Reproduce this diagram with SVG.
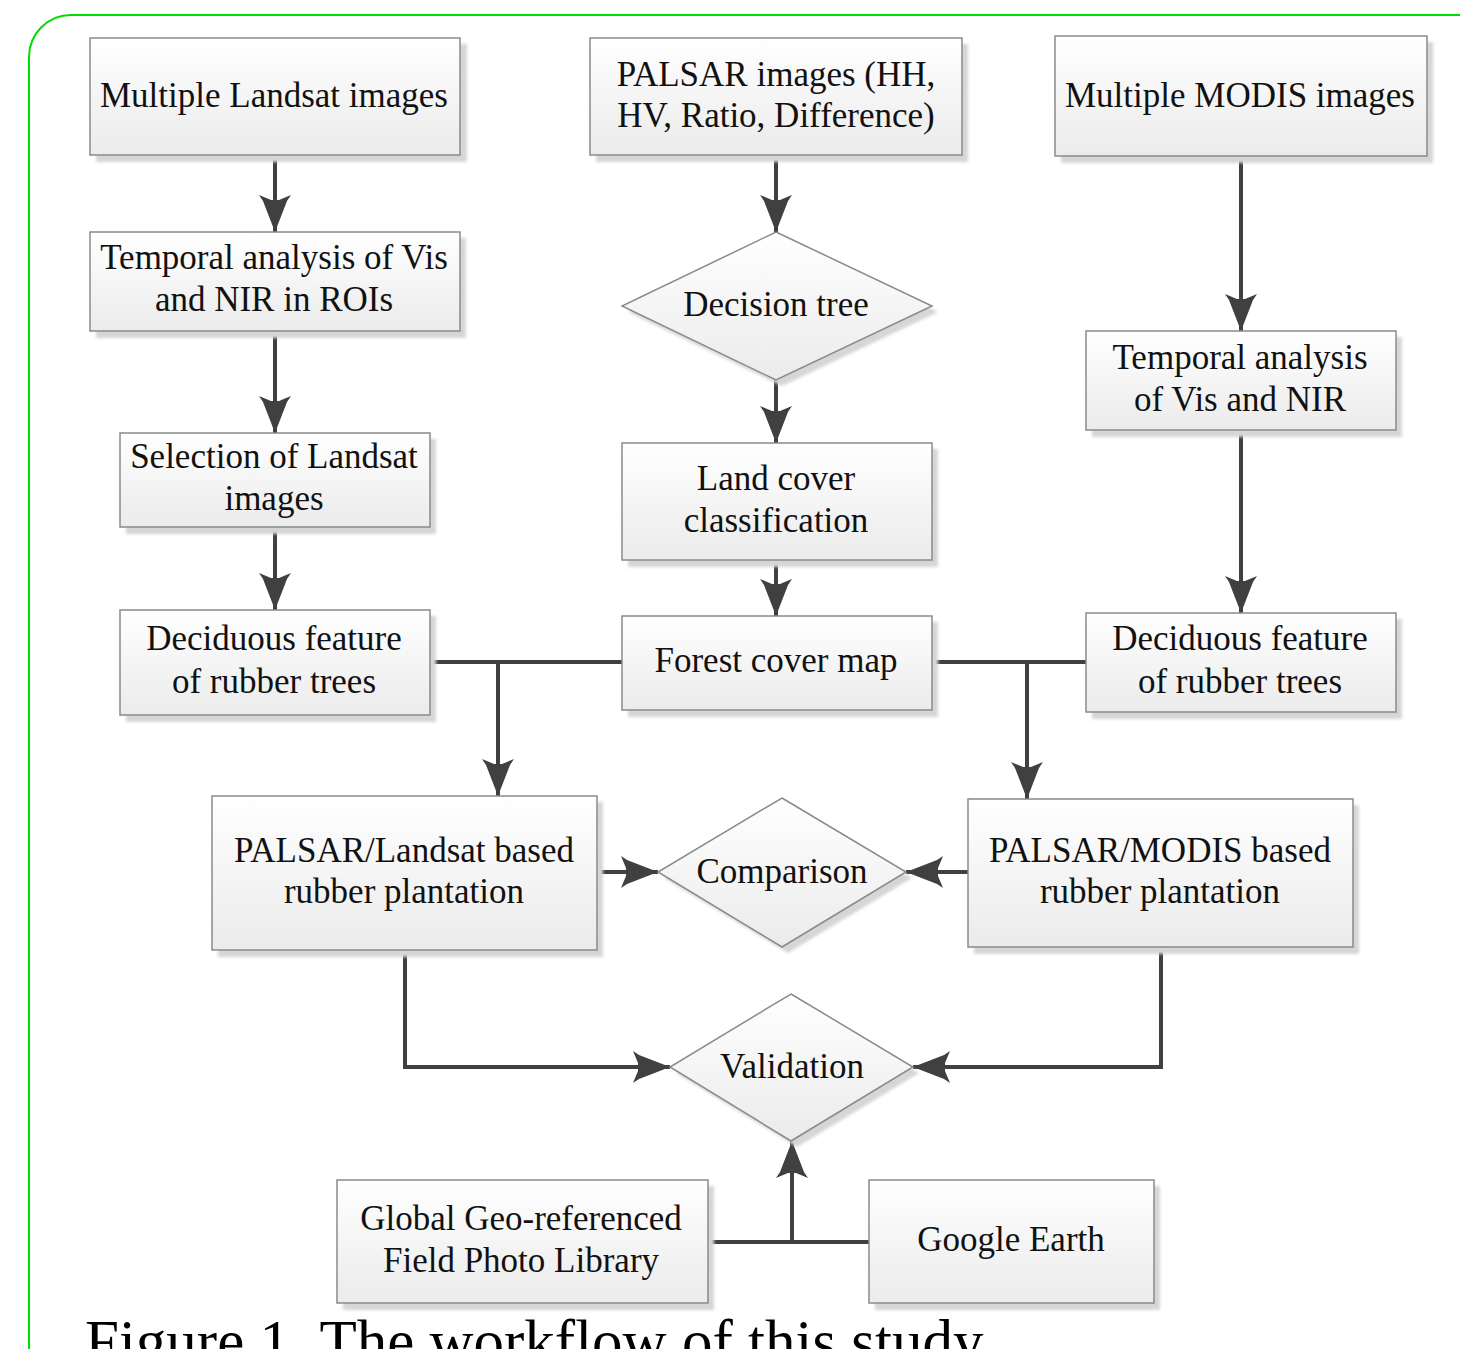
<svg xmlns="http://www.w3.org/2000/svg" width="1460" height="1349" viewBox="0 0 1460 1349">
<defs>
<linearGradient id="gf" x1="0" y1="0" x2="0" y2="1">
<stop offset="0" stop-color="#ffffff"/>
<stop offset="1" stop-color="#ebebeb"/>
</linearGradient>
<filter id="blur" x="-10%" y="-10%" width="120%" height="120%">
<feGaussianBlur stdDeviation="1.5"/>
</filter>
<marker id="ah" markerUnits="userSpaceOnUse" viewBox="-40 -20 42 40" refX="0" refY="0" markerWidth="42" markerHeight="40" orient="auto">
<path d="M0,0 L-31,-12 L-37,-16 L-32,-4 L-32,4 L-37,16 L-31,12 Z" fill="#404040"/>
</marker>
</defs>
<style>
.box{fill:url(#gf);stroke:#8a8a8a;stroke-width:1.5}
.sh{fill:#d6d6d6;filter:url(#blur)}
.t{font-family:"Liberation Serif","Times New Roman",serif;font-size:35px;fill:#111;text-anchor:middle}
.c{fill:none;stroke:#404040;stroke-width:4}
.ca{fill:none;stroke:#404040;stroke-width:4;marker-end:url(#ah)}
.cap{font-family:"Liberation Serif","Times New Roman",serif;font-size:61px;fill:#000}
</style>
<rect x="29" y="15" width="1480" height="1420" rx="42" fill="none" stroke="#00dd00" stroke-width="2"/>

<g id="connectors">
<line class="ca" x1="275" y1="155" x2="275" y2="232"/>
<line class="ca" x1="275" y1="331" x2="275" y2="433"/>
<line class="ca" x1="275" y1="527" x2="275" y2="610"/>
<line class="ca" x1="776" y1="155" x2="776" y2="232"/>
<line class="ca" x1="776" y1="380" x2="776" y2="443"/>
<line class="ca" x1="776" y1="560" x2="776" y2="616"/>
<line class="ca" x1="1241" y1="156" x2="1241" y2="331"/>
<line class="ca" x1="1241" y1="430" x2="1241" y2="613"/>
<line class="c" x1="430" y1="662" x2="622" y2="662"/>
<line class="ca" x1="498" y1="662" x2="498" y2="796"/>
<line class="c" x1="932" y1="662" x2="1086" y2="662"/>
<line class="ca" x1="1027" y1="662" x2="1027" y2="799"/>
<line class="ca" x1="597" y1="872" x2="658" y2="872"/>
<line class="ca" x1="968" y1="872" x2="906" y2="872"/>
<polyline class="ca" points="405,950 405,1067 670,1067"/>
<polyline class="ca" points="1161,947 1161,1067 913,1067"/>
<line class="c" x1="708" y1="1242" x2="869" y2="1242"/>
<line class="ca" x1="792" y1="1242" x2="792" y2="1141"/>
</g>

<g id="n-landsat">
<rect class="sh" x="96" y="44" width="371" height="118"/>
<rect class="box" x="90" y="38" width="370" height="117"/>
<text class="t" x="274" y="107">Multiple Landsat images</text>
</g>
<g id="n-palsar">
<rect class="sh" x="596" y="44" width="372" height="118"/>
<rect class="box" x="590" y="38" width="372" height="117"/>
<text class="t" x="776" y="86">PALSAR images (HH,</text>
<text class="t" x="776" y="127">HV, Ratio, Difference)</text>
</g>
<g id="n-modis">
<rect class="sh" x="1061" y="42" width="372" height="121"/>
<rect class="box" x="1055" y="36" width="372" height="120"/>
<text class="t" x="1240" y="107">Multiple MODIS images</text>
</g>
<g id="n-temporal-roi">
<rect class="sh" x="96" y="238" width="370" height="100"/>
<rect class="box" x="90" y="232" width="370" height="99"/>
<text class="t" x="274" y="269">Temporal analysis of Vis</text>
<text class="t" x="274" y="311">and NIR in ROIs</text>
</g>
<g id="n-decision">
<polygon class="sh" points="782,238 938,312 782,386 628,312"/>
<polygon class="box" points="776,232 932,306 776,380 622,306"/>
<text class="t" x="776" y="316">Decision tree</text>
</g>
<g id="n-temporal-modis">
<rect class="sh" x="1092" y="337" width="310" height="100"/>
<rect class="box" x="1086" y="331" width="310" height="99"/>
<text class="t" x="1240" y="369">Temporal analysis</text>
<text class="t" x="1240" y="411">of Vis and NIR</text>
</g>
<g id="n-selection">
<rect class="sh" x="126" y="439" width="310" height="95"/>
<rect class="box" x="120" y="433" width="310" height="94"/>
<text class="t" x="274" y="468">Selection of Landsat</text>
<text class="t" x="274" y="510">images</text>
</g>
<g id="n-landcover">
<rect class="sh" x="628" y="449" width="310" height="118"/>
<rect class="box" x="622" y="443" width="310" height="117"/>
<text class="t" x="776" y="490">Land cover</text>
<text class="t" x="776" y="532">classification</text>
</g>
<g id="n-decid-left">
<rect class="sh" x="126" y="616" width="310" height="106"/>
<rect class="box" x="120" y="610" width="310" height="105"/>
<text class="t" x="274" y="650">Deciduous feature</text>
<text class="t" x="274" y="693">of rubber trees</text>
</g>
<g id="n-forest">
<rect class="sh" x="628" y="622" width="310" height="95"/>
<rect class="box" x="622" y="616" width="310" height="94"/>
<text class="t" x="776" y="672">Forest cover map</text>
</g>
<g id="n-decid-right">
<rect class="sh" x="1092" y="619" width="310" height="100"/>
<rect class="box" x="1086" y="613" width="310" height="99"/>
<text class="t" x="1240" y="650">Deciduous feature</text>
<text class="t" x="1240" y="693">of rubber trees</text>
</g>
<g id="n-palsar-landsat">
<rect class="sh" x="218" y="802" width="385" height="155"/>
<rect class="box" x="212" y="796" width="385" height="154"/>
<text class="t" x="404" y="862">PALSAR/Landsat based</text>
<text class="t" x="404" y="903">rubber plantation</text>
</g>
<g id="n-comparison">
<polygon class="sh" points="788,804 912,878 788,953 664,878"/>
<polygon class="box" points="782,798 906,872 782,947 658,872"/>
<text class="t" x="782" y="883">Comparison</text>
</g>
<g id="n-palsar-modis">
<rect class="sh" x="974" y="805" width="385" height="149"/>
<rect class="box" x="968" y="799" width="385" height="148"/>
<text class="t" x="1160" y="862">PALSAR/MODIS based</text>
<text class="t" x="1160" y="903">rubber plantation</text>
</g>
<g id="n-validation">
<polygon class="sh" points="797,1000 919,1073 797,1147 676,1073"/>
<polygon class="box" points="791,994 913,1067 791,1141 670,1067"/>
<text class="t" x="792" y="1078">Validation</text>
</g>
<g id="n-photo-library">
<rect class="sh" x="343" y="1186" width="371" height="124"/>
<rect class="box" x="337" y="1180" width="371" height="123"/>
<text class="t" x="521" y="1230">Global Geo-referenced</text>
<text class="t" x="521" y="1272">Field Photo Library</text>
</g>
<g id="n-google-earth">
<rect class="sh" x="875" y="1186" width="285" height="124"/>
<rect class="box" x="869" y="1180" width="285" height="123"/>
<text class="t" x="1011" y="1251">Google Earth</text>
</g>
<text class="cap" x="85" y="1362">Figure 1.  The workflow of this study</text>
</svg>
